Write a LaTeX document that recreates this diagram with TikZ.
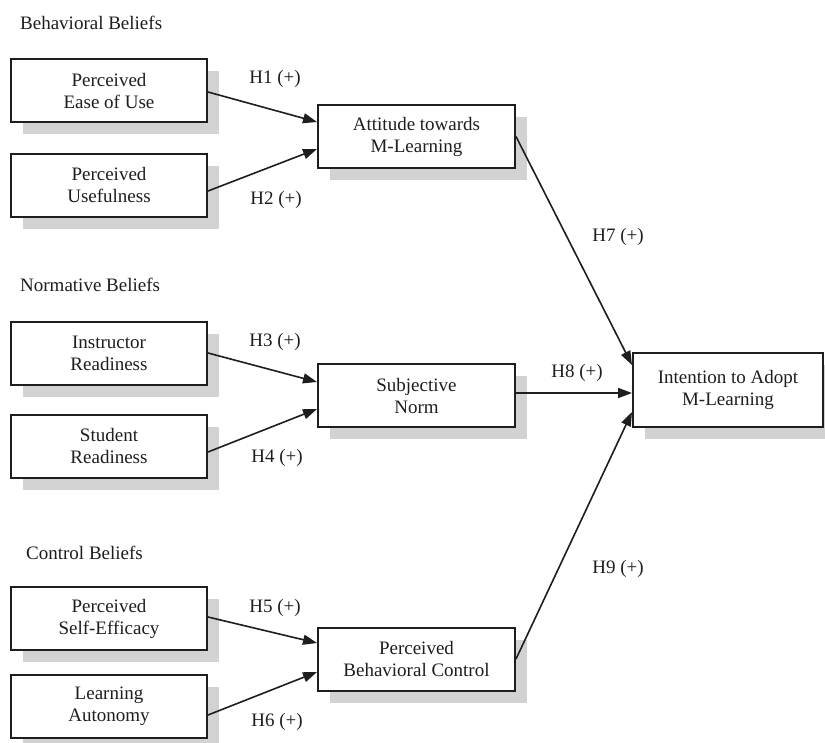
\documentclass[tikz,border=0pt]{standalone}
\usepackage{fontspec}
\setmainfont{Liberation Serif}
\usetikzlibrary{arrows.meta,calc,shadows}
\definecolor{shadowgray}{HTML}{D2D2D2}
\definecolor{inkc}{HTML}{1E1E1E}
\tikzset{
  box/.style={draw=inkc, line width=2pt, fill=white, align=center, inner sep=0pt,
    font=\fontsize{19}{22}\selectfont, text=inkc,
    drop shadow={shadow xshift=12pt, shadow yshift=-12pt, fill=shadowgray, opacity=1, draw=none}},
  leftbox/.style={box, minimum width=196pt, minimum height=63pt},
  midbox/.style={box, minimum width=197pt, minimum height=63pt},
  lbl/.style={font=\fontsize{19}{22}\selectfont, text=inkc, inner sep=0pt},
  grp/.style={font=\fontsize{19}{22}\selectfont, text=inkc, inner sep=0pt, anchor=west},
  arr/.style={draw=inkc, line width=1.6pt, -{Triangle[length=14pt,width=10pt]}}
}
\begin{document}
\begin{tikzpicture}[x=1pt,y=-1pt]
\clip (0,0) rectangle (825,742);
\fill[white] (0,0) rectangle (825,742);

% group titles
\node[grp] (tb) at (20,23) {Behavioral Beliefs};
\node[grp] (tn) at (20,285) {Normative Beliefs};
\node[grp] (tc) at (26,553) {Control Beliefs};

% left boxes
\node[leftbox] (peou) at (109,90.5) {Perceived\\Ease of Use};
\node[leftbox] (pu) at (109,185) {Perceived\\Usefulness};
\node[leftbox] (ir) at (109,353) {Instructor\\Readiness};
\node[leftbox] (sr) at (109,446) {Student\\Readiness};
\node[leftbox] (pse) at (109,618.5) {Perceived\\Self-Efficacy};
\node[leftbox] (la) at (109,706.5) {Learning\\Autonomy};

% middle boxes
\node[midbox] (att) at (416.5,136.5) {Attitude towards\\M-Learning};
\node[midbox] (sn) at (416.5,395.5) {Subjective\\Norm};
\node[midbox] (pbc) at (416.5,659) {Perceived\\Behavioral Control};

% outcome
\node[box, minimum width=190pt, minimum height=74pt] (ita) at (728,390) {Intention to Adopt\\M-Learning};

% arrows
\draw[arr] ($(peou.east)+(0,1.5)$) -- ($(att.west)+(0,-14.5)$);
\draw[arr] ($(pu.east)+(0,6)$) -- ($(att.west)+(0,12.5)$);
\draw[arr] (ir.east) -- ($(sn.west)+(0,-13.5)$);
\draw[arr] ($(sr.east)+(0,6)$) -- ($(sn.west)+(0,13.5)$);
\draw[arr] ($(pse.east)+(0,-1.5)$) -- ($(pbc.west)+(0,-16)$);
\draw[arr] ($(la.east)+(0,8.5)$) -- ($(pbc.west)+(0,13)$);
\draw[arr] (att.east) -- ($(ita.west)+(0,-25)$);
\draw[arr] ($(sn.east)+(0,-2.5)$) -- ($(ita.west)+(0,3)$);
\draw[arr] (pbc.east) -- ($(ita.west)+(0,22)$);

% hypothesis labels
\node[lbl] (h1) at (275,79) {H1 (+)};
\node[lbl] (h2) at (276,200) {H2 (+)};
\node[lbl] (h3) at (275,342) {H3 (+)};
\node[lbl] (h4) at (277,458) {H4 (+)};
\node[lbl] (h5) at (275,608) {H5 (+)};
\node[lbl] (h6) at (277,722) {H6 (+)};
\node[lbl] (h7) at (618,237) {H7 (+)};
\node[lbl] (h8) at (577,373) {H8 (+)};
\node[lbl] (h9) at (618,569) {H9 (+)};
\end{tikzpicture}
\end{document}
